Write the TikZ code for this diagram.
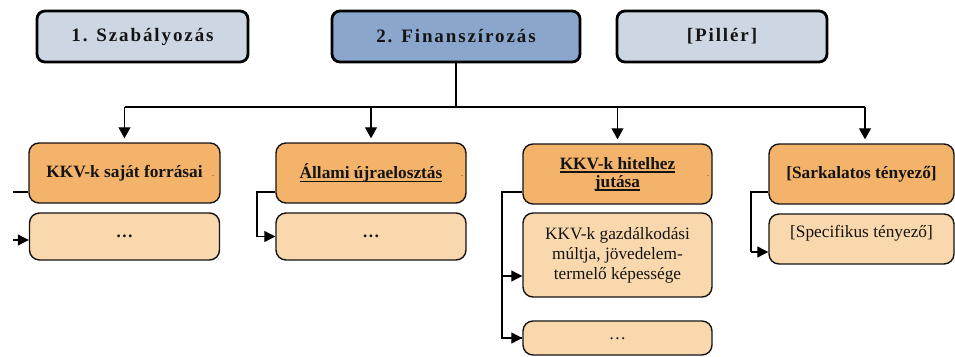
\documentclass[tikz,border=0pt]{standalone}
\usepackage{fontspec}
\setmainfont{Liberation Serif}
\newfontfamily\spacedfont[LetterSpace=10]{Liberation Serif}
\usetikzlibrary{arrows.meta}

\definecolor{pillarpale}{RGB}{205,215,227}
\definecolor{pillarblue}{RGB}{138,166,204}
\definecolor{factororange}{RGB}{244,179,107}
\definecolor{factorlight}{RGB}{249,216,173}
\definecolor{inkdark}{RGB}{20,20,20}

% heavier underline for the emphasised factor titles
\newcommand\heavyul[1]{\setbox0=\hbox{#1}\leavevmode
  \rlap{\raisebox{-3.6pt}{\rule{\wd0}{1.6pt}}}\box0}

\tikzset{
  pillar/.style={draw=black, line width=2.8pt, rounded corners=8pt,
    minimum width=#1, minimum height=51pt, inner sep=0pt,
    font=\spacedfont\bfseries\fontsize{19}{22}\selectfont, text=inkdark},
  factor/.style={draw=inkdark, line width=1.4pt, rounded corners=10pt,
    fill=factororange, minimum width=#1, minimum height=60pt, inner sep=0pt,
    align=center, font=\bfseries\fontsize{17.3}{20}\selectfont, text=inkdark},
  subfactor/.style={draw=inkdark, line width=1.4pt, rounded corners=10pt,
    fill=factorlight, minimum width=190pt, inner sep=0pt,
    align=center, font=\fontsize{17.3}{20}\selectfont, text=inkdark},
  link/.style={draw=black, line width=1.1pt},
  downarrow/.style={link, -{Triangle[length=11pt,width=12pt]}, shorten >=4pt},
  sidearrow/.style={link, -{Triangle[length=11pt,width=11pt]}},
  speck/.style={inner sep=0pt, font=\fontsize{8}{8}\selectfont, text=inkdark}
}

\begin{document}
\begin{tikzpicture}[x=1pt, y=-1pt]
\useasboundingbox (0,0) rectangle (955,356);

% pillars
\node[pillar=211pt, fill=pillarpale] (p1) at (142.5,36.5) {1. Szabályozás};
\node[pillar=248pt, fill=pillarblue] (p2) at (456,36.5) {2. Finanszírozás};
\node[pillar=210pt, fill=pillarpale] (p3) at (722,36.5) {[Pillér]};

% factors
\node[factor=191pt] (f1) at (124.5,173) {KKV-k saját forrásai};
\node[factor=190pt] (f2) at (371,173) {\heavyul{Állami újraelosztás}};
\node[factor=189pt] (f3) at (617.5,174) {\heavyul{KKV-k hitelhez}\\[-2pt]\heavyul{jutása}};
\node[factor=185pt] (f4) at (861.5,174) {[Sarkalatos tényező]};

% small marks at the right of the factor boxes
\node[speck] (d1) at (213,176) {.};
\node[speck] (d2) at (462,176) {.};
\node[speck] (d3) at (708,176) {.};

% sub-factors
\node[subfactor, minimum height=47pt] (s1) at (124.5,236.5) {\textbf{…}};
\node[subfactor, minimum height=47pt] (s2) at (371,236.5) {\textbf{…}};
\node[subfactor, minimum width=189pt, minimum height=84pt] (s3) at (617.5,255)
  {KKV-k gazdálkodási\\múltja, jövedelem-\\termelő képessége};
\node[subfactor, minimum width=189pt, minimum height=34pt] (s3b) at (617.5,338)
  {\raisebox{-4pt}{…}};
\node[subfactor, minimum width=185pt, minimum height=50pt,
  label={[anchor=north, yshift=-8pt, font=\fontsize{17.3}{20}\selectfont, text=inkdark]north:[Specifikus tényező]}]
  (s4) at (861.5,239) {};

% bus from the financing pillar to the factors
\coordinate (bus) at (456,107);
\coordinate (busL) at (124.5,107);
\coordinate (busR) at (865,107);
\draw[link] (p2.south) -- (bus);
\draw[link] (busL) -- (busR);
\draw[downarrow] (busL) -- (f1.north);
\draw[downarrow] (f2.north |- bus) -- (f2.north);
\draw[downarrow] (f3.north |- bus) -- (f3.north);
\draw[downarrow] (busR) -- (busR |- f4.north);

% side connectors from factors to sub-factors
\coordinate (c1a) at (13,192);
\coordinate (c1b) at (13,240);
\draw[link] (c1a) -- (c1a -| f1.west);
\draw[sidearrow] (c1b) -- (c1b -| s1.west);

\coordinate (c2) at (257,192);
\draw[sidearrow] (c2 -| f2.west) -- (c2) |- (s2.west);

\coordinate (c3) at (502,192);
\coordinate (c3a) at (502,276);
\draw[link] (c3 -| f3.west) -- (c3) |- (s3b.west);
\draw[sidearrow] (c3a) -- (c3a -| s3.west);
\draw[sidearrow] (c3 |- s3b.west) -- (s3b.west);

\coordinate (c4) at (751,192);
\coordinate (c4a) at (751,252);
\draw[link] (c4 -| f4.west) -- (c4) -- (c4a);
\draw[sidearrow] (c4a) -- (c4a -| s4.west);
\end{tikzpicture}
\end{document}
